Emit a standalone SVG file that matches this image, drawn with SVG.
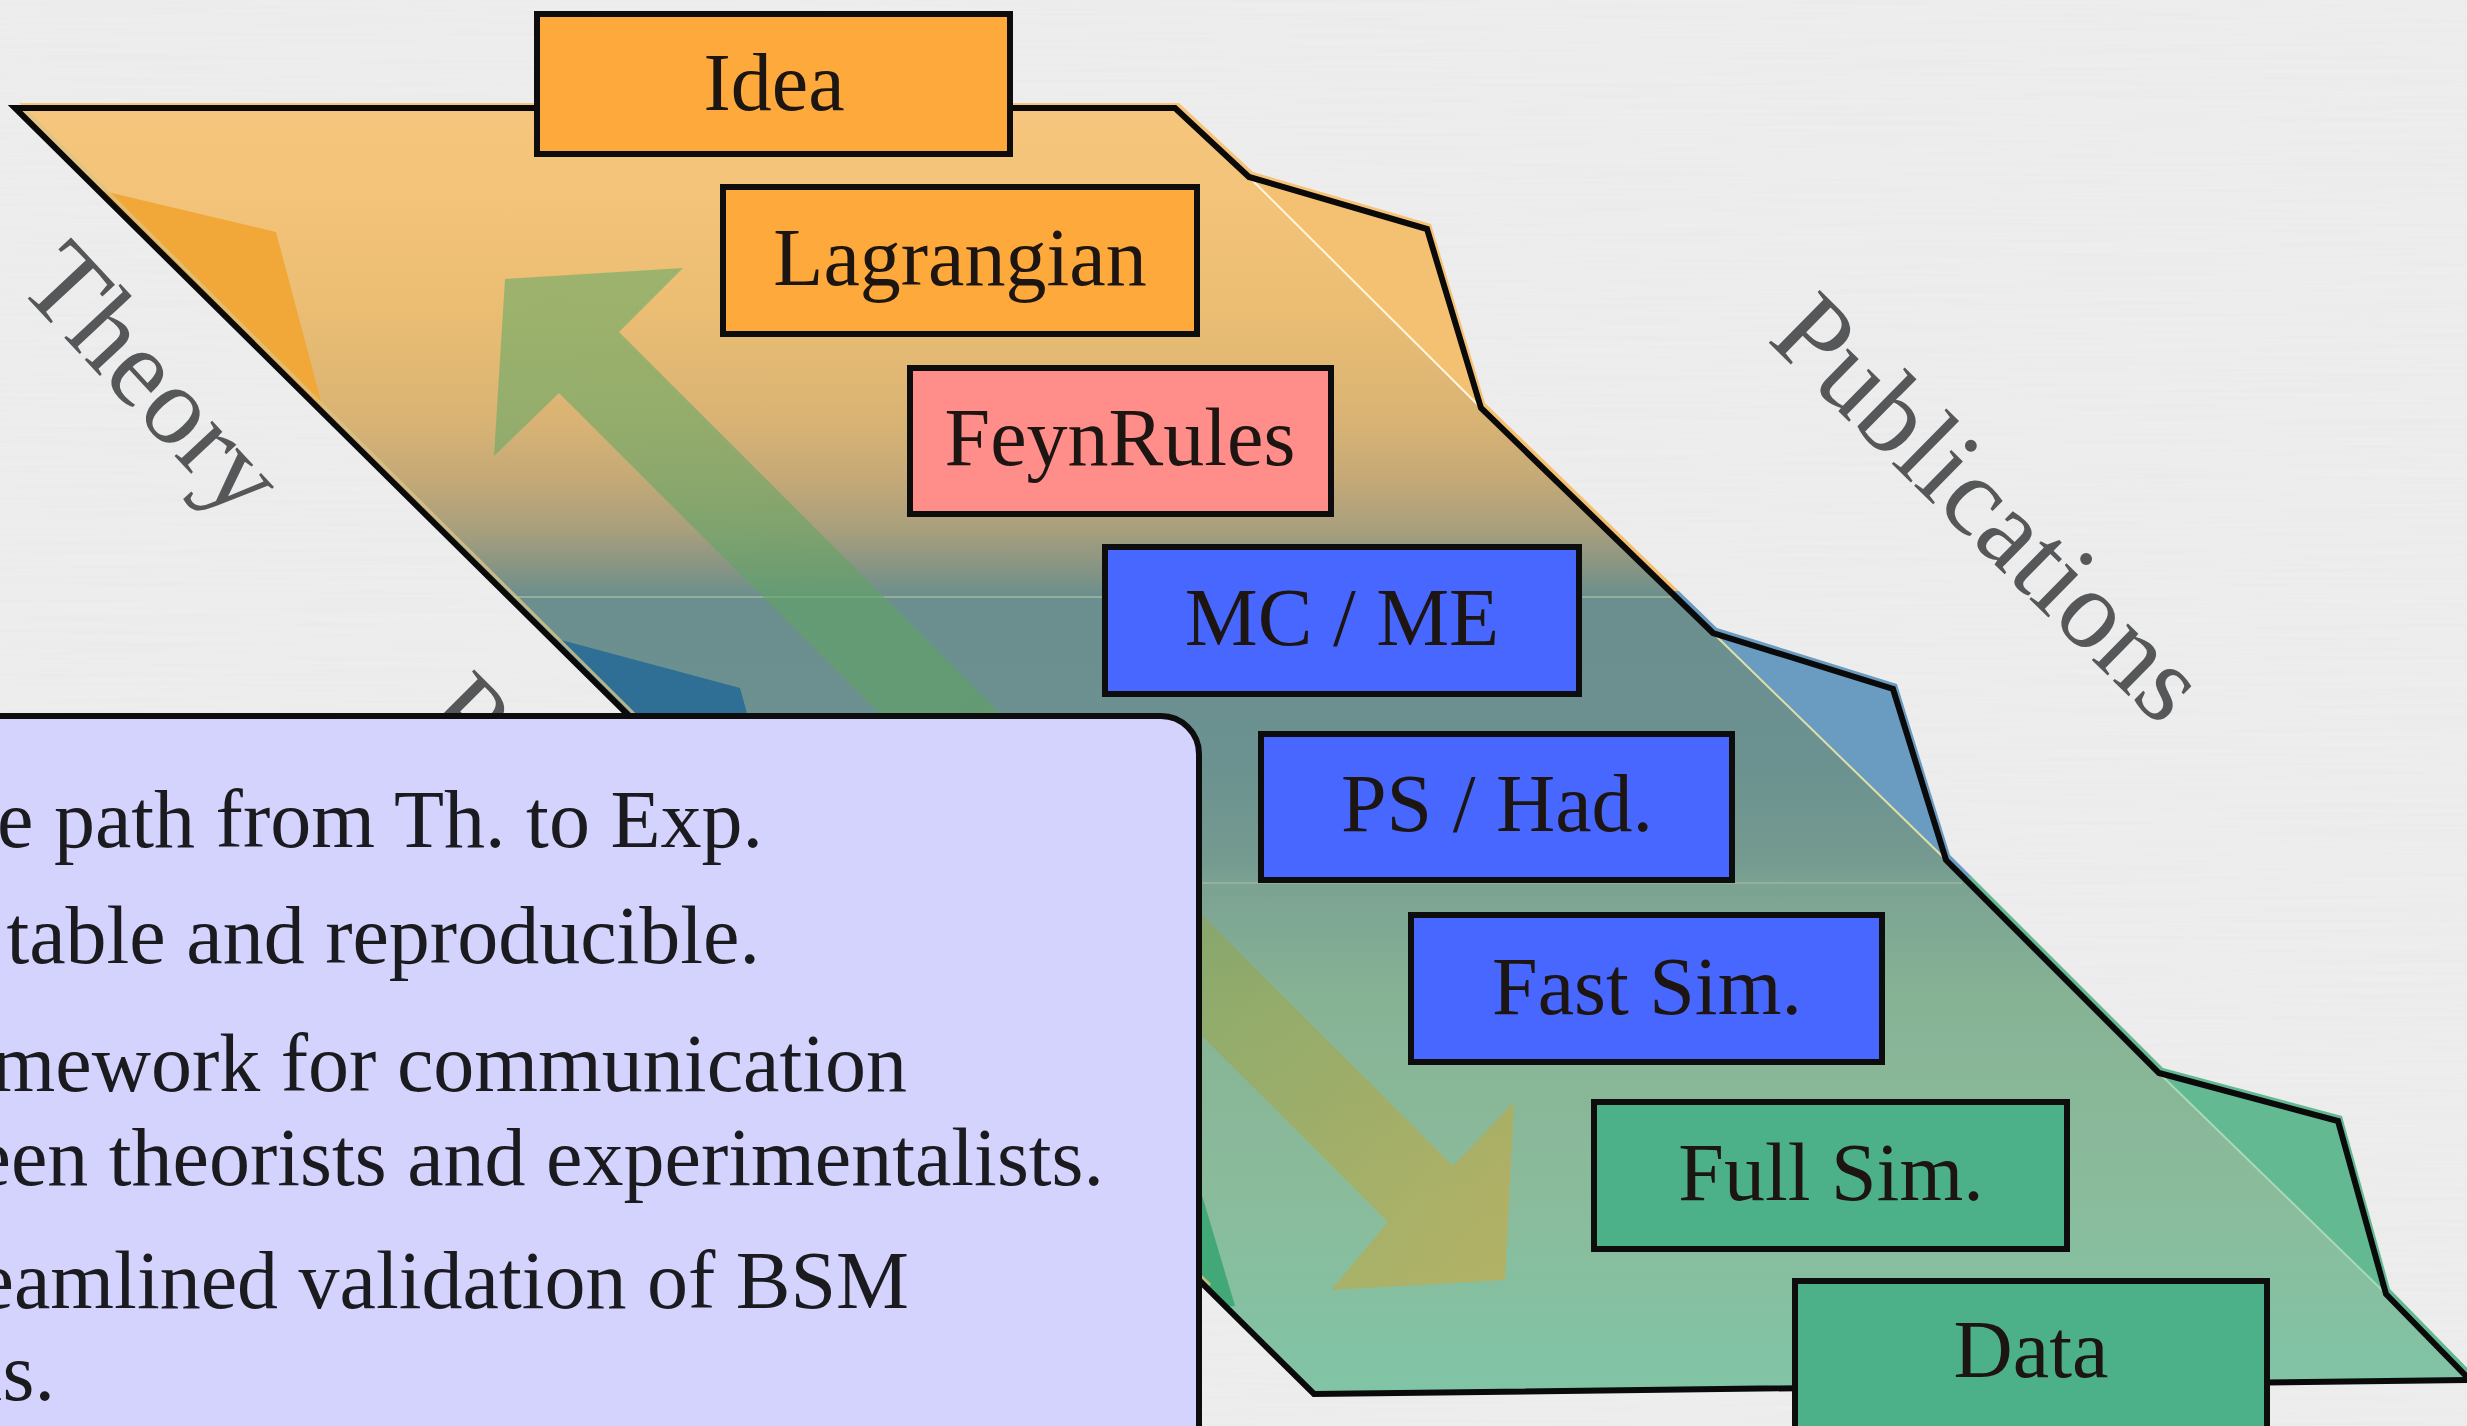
<svg xmlns="http://www.w3.org/2000/svg" width="2467" height="1426" viewBox="0 0 2467 1426">
  <style>
    .box { stroke: #0d0d0d; stroke-width: 6; }
    .nt { font-family: "Liberation Serif", "Times New Roman", serif; font-size: 82px; fill: #1c1512; text-anchor: middle; }
    .tb { font-family: "Liberation Serif", "Times New Roman", serif; font-size: 82px; fill: #1b1b1f; text-anchor: end; }
    .lbl { font-family: "Liberation Serif", "Times New Roman", serif; font-size: 112px; fill: #555758; }
    .outline { fill: none; stroke: #0a0a0a; stroke-width: 6; stroke-linejoin: miter; }
  </style>
  <defs>
    <filter id="paper" x="0" y="0" width="100%" height="100%">
      <feTurbulence type="fractalNoise" baseFrequency="0.004 0.3" numOctaves="2" seed="3" result="n"/>
      <feColorMatrix in="n" type="matrix" values="0 0 0 0 0.55  0 0 0 0 0.55  0 0 0 0 0.55  0 0 0 0.12 0"/>
    </filter>
    <linearGradient id="bandGrad" gradientUnits="userSpaceOnUse" x1="0" y1="108" x2="0" y2="1394">
      <stop offset="0" stop-color="#f7c67e"/>
      <stop offset="0.07" stop-color="#f2c378"/>
      <stop offset="0.149" stop-color="#ecbe73"/>
      <stop offset="0.243" stop-color="#d9b374"/>
      <stop offset="0.289" stop-color="#c4a977"/>
      <stop offset="0.328" stop-color="#a89f7d"/>
      <stop offset="0.359" stop-color="#859484"/>
      <stop offset="0.380" stop-color="#6b8f8e"/>
      <stop offset="0.507" stop-color="#6b9190"/>
      <stop offset="0.585" stop-color="#759a90"/>
      <stop offset="0.603" stop-color="#7ba292"/>
      <stop offset="0.694" stop-color="#87b395"/>
      <stop offset="0.849" stop-color="#8abc9c"/>
      <stop offset="1" stop-color="#80c4a6"/>
    </linearGradient>
    <linearGradient id="shadowGrad" gradientUnits="userSpaceOnUse" x1="0" y1="100" x2="0" y2="1394">
      <stop offset="0" stop-color="#f7c47a"/>
      <stop offset="0.383" stop-color="#f5bf6e"/>
      <stop offset="0.383" stop-color="#6a9bc1"/>
      <stop offset="0.604" stop-color="#6a9bc1"/>
      <stop offset="0.604" stop-color="#62b992"/>
      <stop offset="1" stop-color="#62b992"/>
    </linearGradient>
    <linearGradient id="arrowGrad" gradientUnits="userSpaceOnUse" x1="500" y1="270" x2="1510" y2="1290">
      <stop offset="0" stop-color="#5eaa68"/>
      <stop offset="0.45" stop-color="#5fa25e"/>
      <stop offset="1" stop-color="#d6a838"/>
    </linearGradient>
    <clipPath id="bandClip">
      <polygon points="15,108 1175,108 1249,177 1427,229 1481,408 1713,633 1893,689 1946,860 2159,1073 2338,1121 2386,1294 2470,1380 1314,1394"/>
    </clipPath>
  </defs>

  <!-- background -->
  <rect x="0" y="0" width="2467" height="1426" fill="#efefef"/>
  <rect x="0" y="0" width="2467" height="1426" filter="url(#paper)"/>

  <!-- side labels -->
  <g id="labels">
    <text class="lbl" transform="translate(16,286) rotate(47)">Theory</text>
    <text class="lbl" transform="translate(1766,340) rotate(44.5)">Publications</text>
    <text class="lbl" transform="translate(420,719) rotate(45)">P</text>
  </g>

  <!-- folded band -->
  <g id="band">
    <polygon points="15,108 1175,108 1249,177 1427,229 1481,408 1713,633 1893,689 1946,860 2159,1073 2338,1121 2386,1294 2470,1380 1314,1394" fill="url(#shadowGrad)" transform="translate(4,-5)"/>
    <polygon points="15,108 1175,108 1249,177 1427,229 1481,408 1713,633 1893,689 1946,860 2159,1073 2338,1121 2386,1294 2470,1380 1314,1394" fill="url(#bandGrad)"/>
    <g clip-path="url(#bandClip)">
      <polygon points="40,176 276,232 325,416 60,416" fill="#f2a838"/>
      <polygon points="505,625 740,688 792,876 520,876" fill="#2f6f96"/>
      <polygon points="950,1075 1182,1128 1235,1306 1000,1320" fill="#43a878"/>
      <polygon points="1249,177 1427,229 1481,408" fill="#f4c072"/>
      <polygon points="1713,633 1893,689 1946,860" fill="#6a9bc1"/>
      <polygon points="2159,1073 2338,1121 2386,1294" fill="#62b992"/>
    </g>
    <line x1="1250" y1="178" x2="1480" y2="407" stroke="#fff6e0" stroke-width="2"/>
    <line x1="1714" y1="634" x2="1945" y2="859" stroke="#dfe0a6" stroke-width="2"/>
    <line x1="2160" y1="1074" x2="2385" y2="1293" stroke="#a9dab8" stroke-width="2"/>
    <line x1="505" y1="597" x2="1675" y2="597" stroke="#c9d3a8" stroke-width="1.5" opacity="0.6"/>
    <line x1="793" y1="883" x2="1962" y2="883" stroke="#b9cfa8" stroke-width="1.5" opacity="0.5"/>
    <line x1="23" y1="108" x2="1210" y2="1285" stroke="#d9c487" stroke-width="3" opacity="0.8"/>
    <polygon class="outline" points="15,108 1175,108 1249,177 1427,229 1481,408 1713,633 1893,689 1946,860 2159,1073 2338,1121 2386,1294 2470,1380 1314,1394"/>
  </g>

  <!-- connector: double-headed arrow -->
  <g id="connectors">
    <polygon points="505,279 683,268 619,332 1453,1166 1514,1102 1505,1280 1331,1290 1388,1222 559,393 494,456" fill="url(#arrowGrad)" fill-opacity="0.56"/>
  </g>

  <!-- nodes -->
  <g id="node-idea">
    <rect class="box" x="537" y="14" width="473" height="140" fill="#fea93b"/>
    <text class="nt" x="774" y="110">Idea</text>
  </g>
  <g id="node-lagrangian">
    <rect class="box" x="723" y="187" width="474" height="147" fill="#fea93b"/>
    <text class="nt" x="960" y="285">Lagrangian</text>
  </g>
  <g id="node-feynrules">
    <rect class="box" x="910" y="368" width="421" height="146" fill="#ff8d89"/>
    <text class="nt" x="1120" y="465">FeynRules</text>
  </g>
  <g id="node-mcme">
    <rect class="box" x="1105" y="547" width="474" height="147" fill="#4767fe"/>
    <text class="nt" x="1342" y="645">MC / ME</text>
  </g>
  <g id="node-pshad">
    <rect class="box" x="1261" y="734" width="471" height="146" fill="#4767fe"/>
    <text class="nt" x="1497" y="831">PS / Had.</text>
  </g>
  <g id="node-fastsim">
    <rect class="box" x="1411" y="915" width="471" height="147" fill="#4767fe"/>
    <text class="nt" x="1647" y="1014">Fast Sim.</text>
  </g>
  <g id="node-fullsim">
    <rect class="box" x="1594" y="1102" width="473" height="147" fill="#4cb088"/>
    <text class="nt" x="1831" y="1200">Full Sim.</text>
  </g>
  <g id="node-data">
    <rect class="box" x="1795" y="1281" width="472" height="170" fill="#4cb088"/>
    <text class="nt" x="2031" y="1377">Data</text>
  </g>

  <!-- text panel -->
  <g id="node-textbox">
    <rect x="-60" y="716" width="1259" height="800" rx="38" fill="#d3d3fe" stroke="#0d0d0d" stroke-width="6"/>
    <text class="tb" x="763" y="847">e path from Th. to Exp.</text>
    <text class="tb" x="760" y="963">table and reproducible.</text>
    <text class="tb" x="907" y="1091">mework for communication</text>
    <text class="tb" x="1104" y="1185">een theorists and experimentalists.</text>
    <text class="tb" x="909" y="1308">eamlined validation of BSM</text>
    <text class="tb" x="55" y="1400">ls.</text>
  </g>
</svg>
